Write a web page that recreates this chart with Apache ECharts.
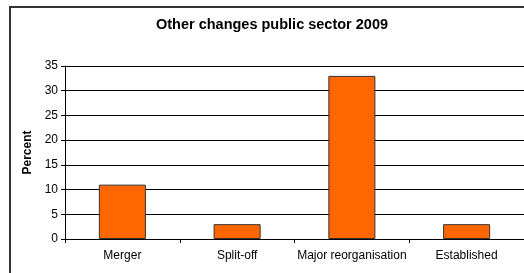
<!DOCTYPE html>
<html>
<head>
<meta charset="utf-8">
<script src="https://cdn.jsdelivr.net/npm/echarts@6/dist/echarts.min.js"></script>
<style>
html, body { margin: 0; padding: 0; background: #fff; overflow: hidden; }
#chart { width: 524px; height: 273px; position: relative; }
#frame { position: absolute; left: 9px; top: 6px; width: 600px; height: 400px;
         border-left: 2px solid #333; border-top: 2px solid #333; pointer-events: none; }
</style>
</head>
<body>
<div id="chart"></div>
<div id="frame"></div>
<script>
var categories = ['Merger', 'Split-off', 'Major reorganisation', 'Established'];
var percentValues = [11, 3, 33, 3];
var yTicks = [0, 5, 10, 15, 20, 25, 30, 35];

var chart = echarts.init(document.getElementById('chart'));
var font = '"Liberation Sans", Arial, sans-serif';

var option = {
    animation: false,
    backgroundColor: '#fff',
    graphic: [
        {
            type: 'text',
            x: 272,
            y: 25,
            style: {
                text: 'Other changes public sector 2009',
                fontFamily: font, fontSize: 14.5, fontWeight: 'bold', fill: '#000',
                align: 'center', verticalAlign: 'middle'
            },
            silent: true
        }
    ],
    grid: { left: 65, top: 66, right: -2, bottom: 34 },
    xAxis: {
        type: 'category',
        data: categories,
        axisLine: { lineStyle: { color: '#000', width: 1 } },
        axisTick: { show: true, length: 4, lineStyle: { color: '#000' } },
        axisLabel: { fontFamily: font, fontSize: 12, color: '#000', margin: 11, interval: 0 }
    },
    yAxis: {
        type: 'value',
        min: yTicks[0],
        max: yTicks[yTicks.length - 1],
        interval: 5,
        name: 'Percent',
        nameLocation: 'middle',
        nameGap: 31,
        nameTextStyle: { fontFamily: font, fontSize: 12, fontWeight: 'bold', color: '#000' },
        axisLine: { show: true, lineStyle: { color: '#000', width: 1 } },
        axisTick: { show: true, length: 4, lineStyle: { color: '#000' } },
        axisLabel: { fontFamily: font, fontSize: 12, color: '#000', margin: 7 },
        splitLine: { lineStyle: { color: '#000', width: 1 } }
    },
    series: [{
        type: 'bar',
        data: percentValues,
        barWidth: '41%',
        itemStyle: { color: '#ff6600', borderColor: '#333', borderWidth: 1 }
    }]
};

chart.setOption(option);
</script>
</body>
</html>
